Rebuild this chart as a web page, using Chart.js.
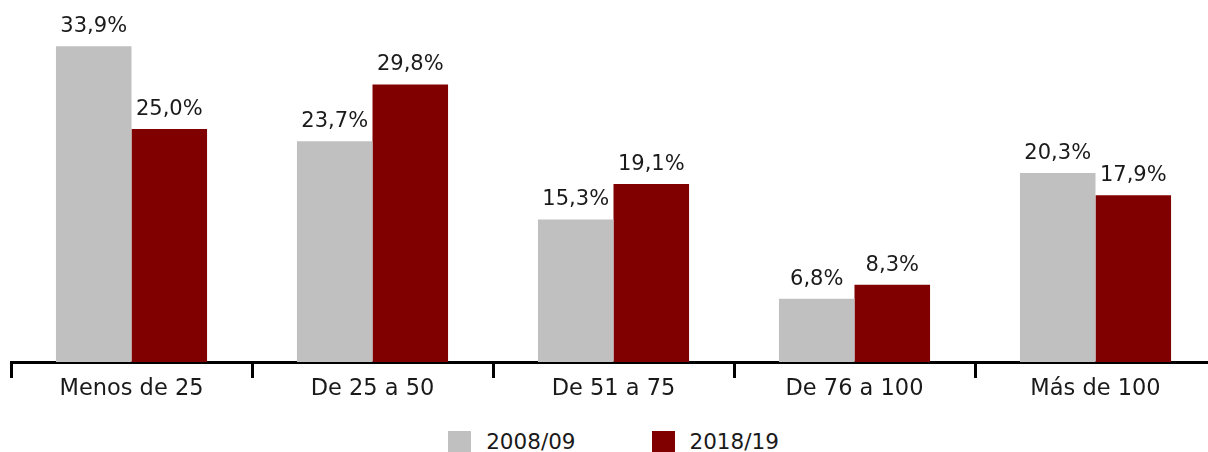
<!DOCTYPE html>
<html>
<head>
<meta charset="utf-8">
<title>Distribución por tamaño</title>
<script src="https://cdn.jsdelivr.net/npm/chart.js@4/dist/chart.umd.min.js"></script>
<style>
  body { margin: 0; background: #fff; overflow: hidden; font-family: "DejaVu Sans", sans-serif; }
  #wrap { position: relative; width: 1220px; height: 452px; }
  #chartBox { position: absolute; left: 0; top: 0; width: 1220px; height: 420px; }
  #legend { position: absolute; left: 0; width: 1227px; top: 429px; display: flex; justify-content: center; font-size: 21.5px; color: #1a1a1a; }
  .item { display: flex; align-items: center; margin: 0 38px; }
  .swatch { width: 23px; height: 21px; margin-right: 15px; }
</style>
</head>
<body>
<div id="wrap">
  <div id="chartBox"><canvas id="barChart"></canvas></div>
  <div id="legend"></div>
</div>
<script>
const categories = ["Menos de 25", "De 25 a 50", "De 51 a 75", "De 76 a 100", "Más de 100"];
const seriesNames = ["2008/09", "2018/19"];
const values2008 = [33.9, 23.7, 15.3, 6.8, 20.3];
const values2018 = [25.0, 29.8, 19.1, 8.3, 17.9];
const colors = ["#c0c0c0", "#800000"];

// value labels above each bar, Spanish decimal comma
const barLabels = {
  id: "barLabels",
  afterDatasetsDraw(chart) {
    const ctx = chart.ctx;
    ctx.save();
    ctx.font = "21px 'DejaVu Sans'";
    ctx.fillStyle = "#1a1a1a";
    ctx.textAlign = "center";
    ctx.textBaseline = "bottom";
    chart.data.datasets.forEach((ds, i) => {
      chart.getDatasetMeta(i).data.forEach((bar, j) => {
        const txt = ds.data[j].toFixed(1).replace(".", ",") + "%";
        ctx.fillText(txt, bar.x, bar.y - 9);
      });
    });
    ctx.restore();
  }
};

new Chart(document.getElementById("barChart"), {
  type: "bar",
  data: {
    labels: categories,
    datasets: [
      { label: seriesNames[0], data: values2008, backgroundColor: colors[0] },
      { label: seriesNames[1], data: values2018, backgroundColor: colors[1] }
    ]
  },
  options: {
    responsive: true,
    maintainAspectRatio: false,
    animation: false,
    categoryPercentage: 0.627,
    barPercentage: 1,
    layout: { padding: { top: 8, left: 11, right: 4, bottom: 19 } },
    plugins: {
      legend: { display: false },
      tooltip: { enabled: false }
    },
    scales: {
      y: { display: false, min: 0, max: 38 },
      x: {
        border: { color: "#000", width: 3 },
        grid: { drawOnChartArea: false, drawTicks: true, tickLength: 16, color: "#000", lineWidth: 3 },
        ticks: { color: "#1a1a1a", font: { family: "DejaVu Sans", size: 22.5 }, padding: -2 }
      }
    }
  },
  plugins: [barLabels]
});

// legend built from the same names and colours
const legend = document.getElementById("legend");
seriesNames.forEach((name, i) => {
  const item = document.createElement("div");
  item.className = "item";
  item.innerHTML = `<span class="swatch" style="background:${colors[i]}"></span><span>${name}</span>`;
  legend.appendChild(item);
});
</script>
</body>
</html>
